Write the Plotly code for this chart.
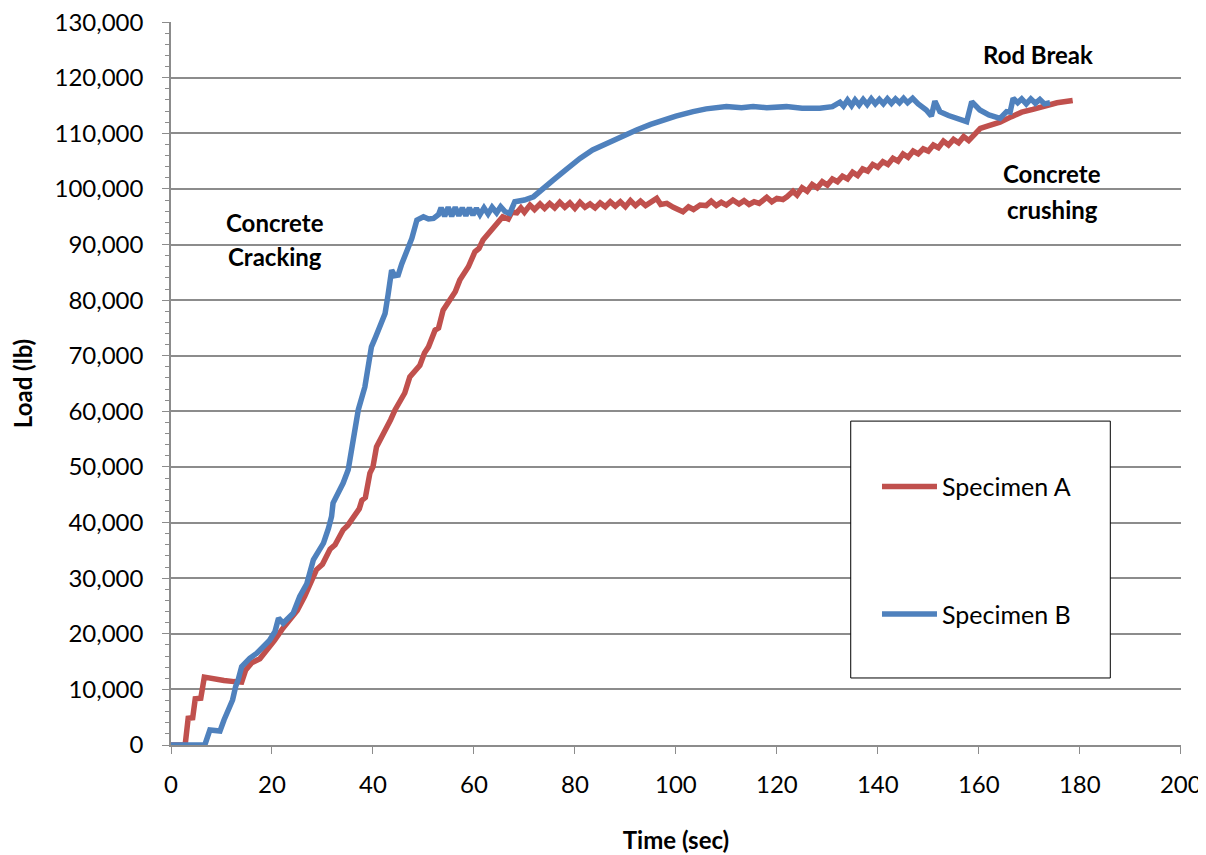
import plotly.graph_objects as go

# Specimen A (red) - time in sec, load in lb
time_a = [0, 2.8, 3.4, 4.3, 4.8, 5.9, 6.6, 8.5, 10.5, 12.5, 14.0, 14.8, 16.0, 17.6, 19.0, 20.5,
          22.0, 23.5, 25.0, 26.5, 27.5, 28.8, 30.0, 31.5, 32.5, 34.1, 35.0, 36.1, 37.3, 37.8,
          38.5, 39.4, 40.0, 40.7, 41.5, 42.7, 43.5, 44.4, 45.2, 46.3, 47.3, 48.2, 49.3, 50.2,
          51.0, 52.3, 53.0, 53.9, 55.6, 56.3, 57.2, 58.9, 60.2, 61.0, 61.8, 62.8, 63.8, 65.0,
          65.7, 66.8, 67.5, 68.5, 69.3, 70.0, 71.1, 72.0, 73.1, 74.0, 75.0, 76.0, 77.0, 78.0,
          79.0, 80.0, 81.0, 82.0, 83.0, 84.0, 85.0, 86.0, 87.0, 88.0, 89.0, 90.0, 91.0, 92.0,
          93.0, 94.0, 95.0, 96.2, 97.0, 98.2, 99.5, 101.4, 102.5, 103.5, 104.8, 106, 107, 108,
          109, 110, 111.3, 112.5, 113.5, 114.5, 115.5, 116.5, 118, 119, 120, 121.2, 122, 123.2,
          124, 125, 126, 127, 128, 129, 130, 131, 132, 133, 134, 135, 136, 137, 138, 139, 140,
          141, 142, 143, 144, 145, 146, 147, 148, 149, 150, 151, 152, 153, 154, 155, 156, 157,
          158, 159.3, 160.3, 162, 164.2, 166.5, 168.5, 170.7, 173, 175.5, 178.6]
load_a = [0, 0, 4800, 4900, 8300, 8400, 12200, 11800, 11600, 11400, 11300, 13500, 14800, 15500,
          17000, 18800, 20800, 22600, 24200, 26800, 29000, 31500, 32500, 35200, 36000, 38700,
          39500, 41000, 42500, 44000, 44500, 48900, 50000, 53600, 55000, 56700, 58500, 60300,
          61500, 63300, 66200, 67000, 68300, 70500, 71600, 74600, 75000, 78200, 80600, 81500,
          83600, 86000, 88700, 89300, 90800, 91800, 92900, 94300, 95000, 94600, 95800, 95700,
          96600, 95800, 97100, 96300, 97300, 96500, 97400, 96600, 97600, 96700, 97500, 96500,
          97600, 96700, 97300, 96600, 97500, 96800, 97700, 96900, 97700, 96800, 97900, 97000,
          97800, 97000, 97600, 98300, 97200, 97400, 96700, 95900, 96800, 96300, 97100, 97000,
          97800, 97000, 97600, 97100, 98000, 97300, 97900, 97200, 97700, 97400, 98500, 97700,
          98300, 98100, 98600, 99600, 98900, 100200, 99600, 100800, 100200, 101300, 100700,
          101800, 101300, 102300, 101800, 103000, 102400, 103600, 103200, 104400, 103900,
          104900, 104400, 105500, 105000, 106300, 105700, 106800, 106300, 107200, 106800,
          107900, 107400, 108600, 107900, 108900, 108300, 109400, 108700, 109800, 110900,
          111400, 112000, 113000, 113800, 114300, 114900, 115500, 115900]

# Specimen B (blue)
time_b = [0, 6.7, 7.7, 9.7, 10.5, 11.5, 12.2, 12.8, 13.3, 14, 15.6, 17, 18.3, 19.5, 20.6, 21.3,
          22.2, 23.2, 24.2, 25.5, 26.9, 28.2, 29.2, 30.2, 31.2, 31.8, 32.1, 33.0, 34.1, 35.1,
          35.6, 36.1, 37.1, 38.4, 39.1, 39.7, 40.5, 41.4, 42.4, 43.0, 43.7, 44.3, 45, 45.7,
          46.3, 47.7, 48.7, 50, 51, 52, 53, 53.5, 54.2, 54.9, 55.6, 56.3, 57.0, 57.7, 58.4,
          59.1, 59.8, 60.5, 61.2, 62.0, 62.8, 63.6, 64.5, 65.3, 66.2, 67.1, 68.1, 70, 71.8,
          73.5, 75.7, 78, 81, 83.5, 86.3, 89, 92.2, 95, 97.5, 100, 103.4, 106, 110, 113, 115.3,
          118, 121.9, 125, 128.5, 131, 132.5, 133.2, 134, 134.8, 135.5, 136.3, 137.1, 137.9,
          138.7, 139.5, 140.3, 141.1, 141.9, 142.7, 143.5, 144.3, 145.1, 145.9, 146.9, 148,
          149.6, 150.6, 151.3, 152.3, 154, 156, 157.6, 158.6, 160.2, 162, 164.2, 165.5, 166.2,
          166.8, 167.7, 168.5, 169.4, 170.3, 171.2, 172.1, 173, 174.1]
load_b = [0, 0, 2700, 2500, 4500, 6300, 8100, 10500, 11700, 14100, 15600, 16500, 17700, 18800,
          20400, 22800, 21900, 22700, 23700, 26700, 29000, 33300, 35000, 36300, 39000, 41100,
          43500, 45000, 47100, 49500, 52000, 55400, 60300, 64400, 68000, 71600, 73300, 75200,
          77600, 81000, 85400, 84400, 84500, 86500, 87800, 91100, 94400, 95000, 94600, 94700,
          95400, 96600, 95100, 96700, 95100, 96700, 95200, 96600, 95200, 96600, 95300, 96500,
          95400, 96600, 95500, 96700, 95700, 96800, 95900, 95600, 97700, 98000, 98600, 100000,
          101600, 103300, 105500, 107000, 108200, 109400, 110600, 111600, 112400, 113100,
          113900, 114400, 114800, 114600, 114800, 114600, 114800, 114500, 114500, 114800,
          115600, 114900, 116000, 115000, 116000, 115100, 116100, 115200, 116200, 115300,
          116100, 115300, 116200, 115400, 116200, 115500, 116300, 115500, 116300, 115300,
          114200, 113100, 115800, 113900, 113200, 112500, 112100, 115700, 114200, 113300,
          112700, 113900, 113800, 116300, 115500, 116200, 115300, 116200, 115400, 116100,
          115300, 115500]

red = '#C0504D'
blue = '#4F81BD'
grid = '#8C8C8C'
font = 'Lato, Calibri, sans-serif'

fig = go.Figure()
fig.add_trace(go.Scatter(x=time_a, y=load_a, mode='lines', name='Specimen A',
                         line=dict(color=red, width=5.5), legendgroup='a'))
fig.add_trace(go.Scatter(x=time_b, y=load_b, mode='lines', name='Specimen B',
                         line=dict(color=blue, width=5.5), legendgroup='b'))

# legend frame
fig.add_shape(type='rect', xref='paper', yref='paper', x0=0.673, x1=0.930, y0=0.0927, y1=0.448,
              line=dict(color='black', width=1), fillcolor='white', layer='above')

notes = [
    (171.7, 124100, 'Rod Break'),
    (174.5, 102800, 'Concrete'),
    (174.5, 96300, 'crushing'),
    (20.6, 94000, 'Concrete'),
    (20.6, 87900, 'Cracking'),
]
for x, y, t in notes:
    fig.add_annotation(x=x, y=y, text='<b>' + t + '</b>', showarrow=False,
                       font=dict(family=font, size=24, color='black'))

# page body has an 8px margin, so the figure is shifted and shrunk to fit
fig.update_layout(
    width=1198, height=847,
    margin=dict(l=163, r=25, t=14, b=110),
    plot_bgcolor='white', paper_bgcolor='white',
    font=dict(family=font, size=24, color='black'),
    showlegend=True,
    legend=dict(x=0.699, y=0.389, xanchor='left', yanchor='top', bgcolor='rgba(0,0,0,0)',
                borderwidth=0, tracegroupgap=92, traceorder='grouped', itemwidth=55,
                font=dict(family=font, size=25, color='black')),
)
fig.update_xaxes(range=[0, 200.05], dtick=20, tick0=0, showgrid=False, zeroline=False,
                 showline=True, linecolor=grid, linewidth=1.5, automargin=False,
                 ticks='outside', ticklen=7, tickcolor=grid, ticklabelstandoff=10,
                 ticklabeloverflow='allow',
                 title=dict(text='<b>Time (sec)</b>', standoff=36,
                            font=dict(family=font, size=24)))
fig.update_yaxes(range=[0, 130020], dtick=10000, tick0=0, tickformat=',d', showgrid=True,
                 gridcolor=grid, gridwidth=1.5, zeroline=False, automargin=False,
                 showline=True, linecolor=grid, linewidth=1.5,
                 ticks='outside', ticklen=7, tickcolor=grid, ticklabelstandoff=14,
                 ticklabeloverflow='allow',
                 minor=dict(dtick=2000, ticks='outside', ticklen=4, tickcolor=grid, showgrid=False),
                 title=dict(text='<b>Load (lb)</b>', standoff=21,
                            font=dict(family=font, size=24)))

fig.write_html("out.html")
